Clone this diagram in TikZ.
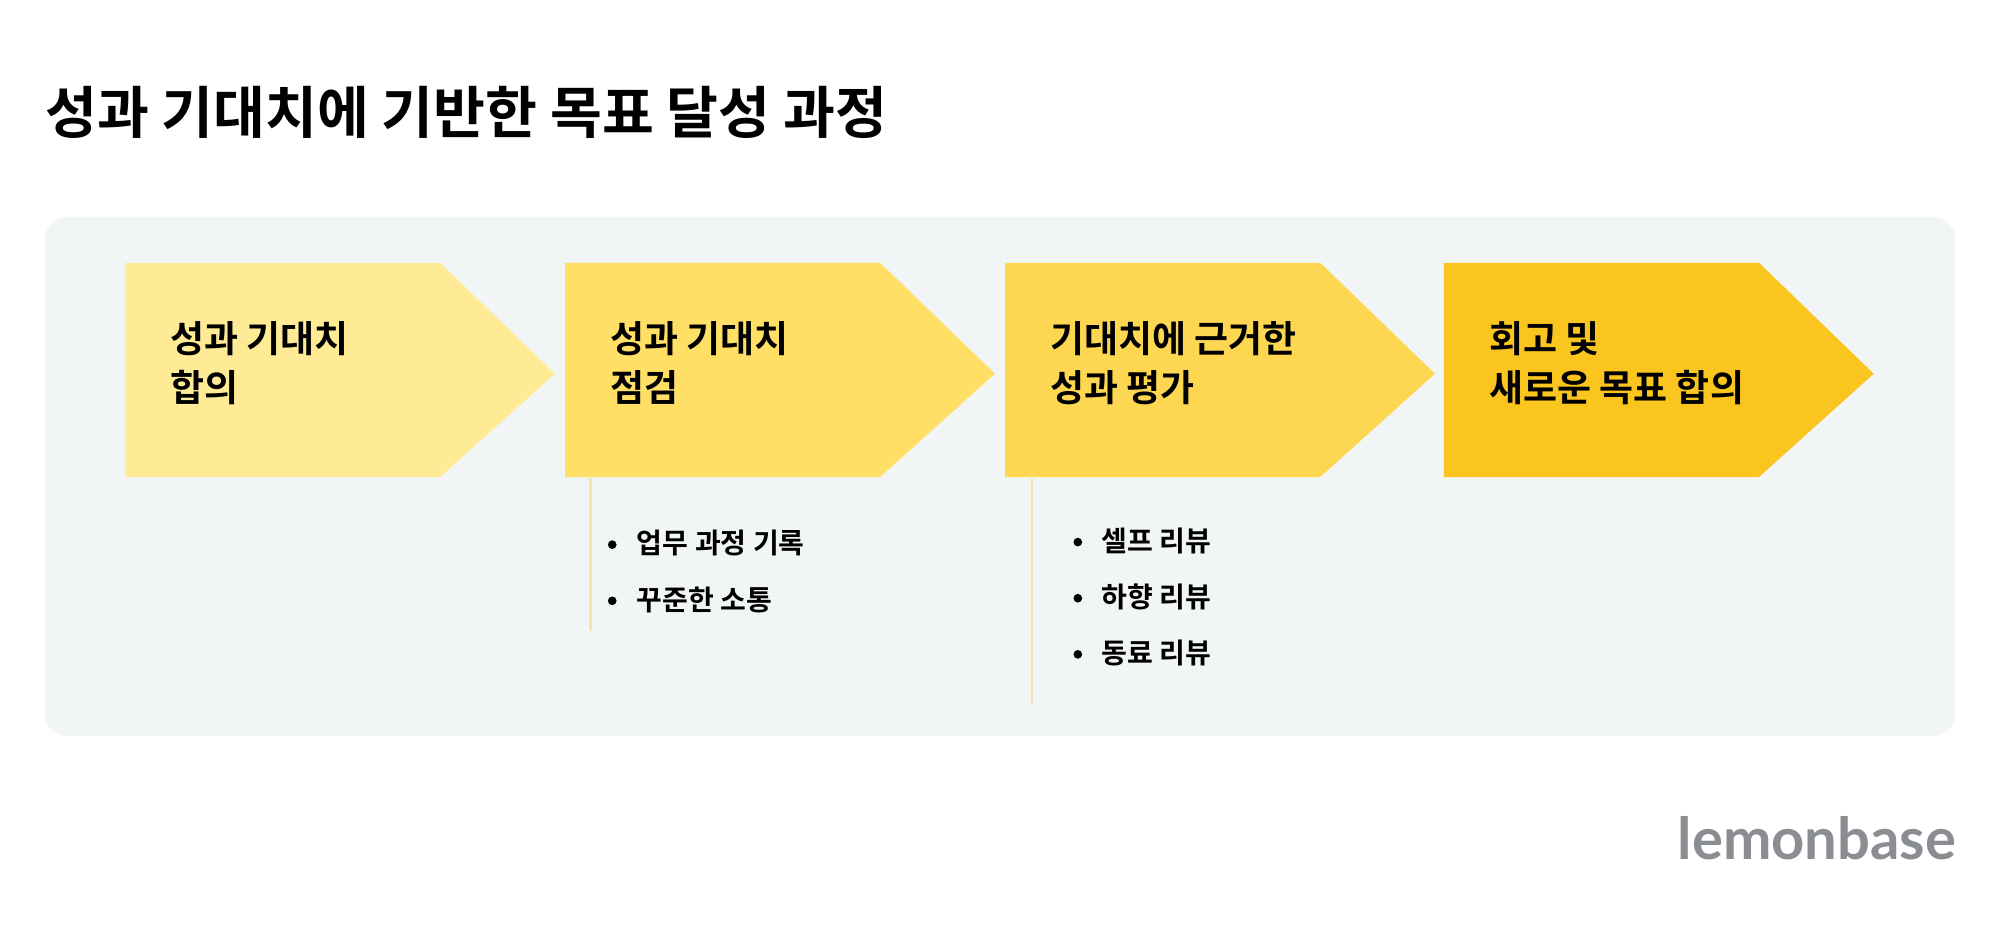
\documentclass[tikz,border=0pt]{standalone}
\usepackage{fontspec}
\setmainfont{Noto Sans CJK KR}
\newfontfamily\kb{Noto Sans CJK KR Bold}
\newfontfamily\km{Noto Sans CJK KR Medium}
\newfontfamily\logo{Lato Bold}
\begin{document}
\begin{tikzpicture}[x=0.5pt,y=-0.5pt,
  step1/.style={inner sep=0,anchor=north west,align=left,font=\kb\fontsize{14.5}{19}\selectfont},
  bul/.style={inner sep=0,anchor=west,font=\kb\fontsize{11}{13}\selectfont},
  dot/.style={circle,fill=black,inner sep=1.2pt}]
\useasboundingbox (0,0) rectangle (1568,746);
\fill[white] (0,0) rectangle (1568,746);
\node[inner sep=0,anchor=west,font=\kb\fontsize{22.1}{26}\selectfont] (title) at (35,88) {성과 기대치에 기반한 목표 달성 과정};
\fill[rounded corners=9pt,color={rgb,255:red,241;green,245;blue,245}] (35,170) rectangle (1533,577);
\definecolor{c1}{HTML}{FFEA96}\definecolor{c2}{HTML}{FFDF66}
\definecolor{c3}{HTML}{FED752}\definecolor{c4}{HTML}{FAC51E}
\definecolor{ln}{HTML}{F3E6A8}
\foreach \i/\x/\c in {1/98/c1,2/443/c2,3/788/c3,4/1132/c4}{
  \fill[\c] (\x,206) -- (\x+247,206) -- (\x+337,293) -- (\x+247,374) -- (\x,374) -- cycle;
}
\node[step1] (t1) at (133,252) {성과 기대치\\합의};
\node[step1] (t2) at (478,252) {성과 기대치\\점검};
\node[step1] (t3) at (823,252) {기대치에 근거한\\성과 평가};
\node[step1] (t4) at (1167,252) {회고 및\\새로운 목표 합의};
\coordinate (a1) at (463,375); \coordinate (a2) at (463,495);
\coordinate (b1) at (809,375); \coordinate (b2) at (809,551);
\draw[ln,line width=1pt] (a1) -- (a2);
\draw[ln,line width=1pt] (b1) -- (b2);
\node[dot] (d1) at (480,427) {}; \node[bul] (s1) at (499,426) {업무 과정 기록};
\node[dot] (d2) at (480,471) {}; \node[bul] (s2) at (499,470) {꾸준한 소통};
\node[dot] (d3) at (845,425) {}; \node[bul] (s3) at (863,424) {셀프 리뷰};
\node[dot] (d4) at (845,469) {}; \node[bul] (s4) at (863,468) {하향 리뷰};
\node[dot] (d5) at (845,513) {}; \node[bul] (s5) at (863,512) {동료 리뷰};
\node[inner sep=0,anchor=east,text={rgb,255:red,138;green,141;blue,145},font=\logo\fontsize{22.7}{26}\selectfont] (lg) at (1534,657) {lemonbase};
\end{tikzpicture}
\end{document}
